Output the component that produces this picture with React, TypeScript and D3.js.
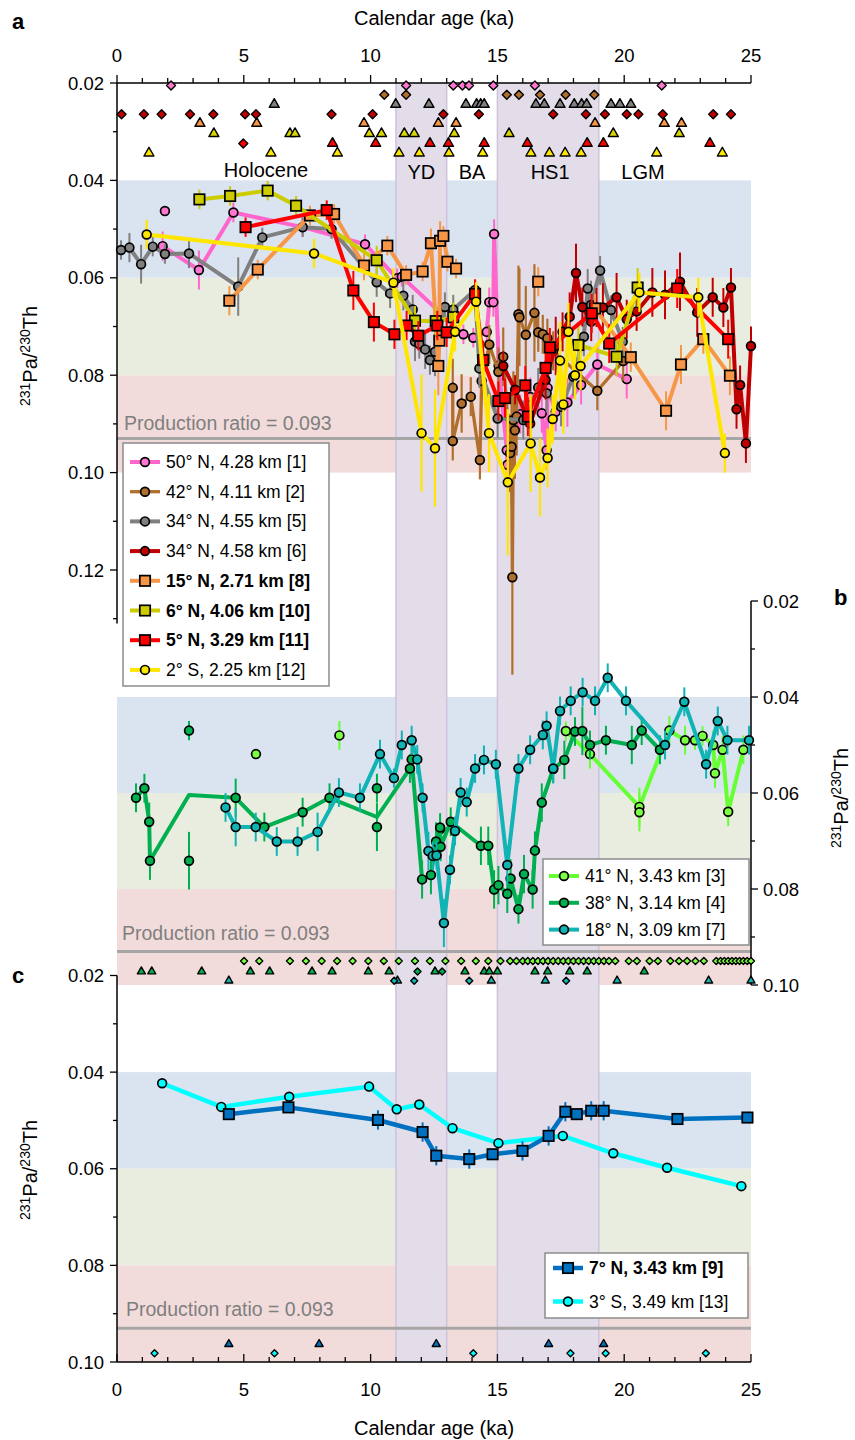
import React from "react";
import * as d3 from "d3";

type P = [number, number, number];
type Q = [number, number];

// ---------------- Panel a: series (age ka, 231Pa/230Th, error) ----------------
const s50N: P[] = [
  [1.8, 0.0535, 0.003], [3.23, 0.0584, 0.004], [4.59, 0.0466, 0.002], [7.32, 0.0496, 0.002],
  [9.78, 0.0531, 0.002], [11.05, 0.0601, 0.002], [11.23, 0.0598, 0.002], [13.66, 0.0716, 0.002],
  [14.05, 0.0723, 0.002], [14.58, 0.0711, 0.002], [14.68, 0.065, 0.003], [14.84, 0.065, 0.003],
  [14.87, 0.051, 0.003], [15.05, 0.078, 0.006], [15.37, 0.0954, 0.004], [15.4, 0.0984, 0.004],
  [15.9, 0.088, 0.004], [16.3, 0.0845, 0.004], [16.75, 0.0878, 0.004], [16.94, 0.0954, 0.004],
  [16.98, 0.0826, 0.004], [17.3, 0.0875, 0.004], [17.76, 0.0856, 0.005], [18.3, 0.082, 0.004],
  [18.94, 0.0778, 0.004], [20.1, 0.0808, 0.004],
];
const s50NExtra: P[] = [[1.89, 0.0463, 0]];

const s42N: P[] = [
  [13.24, 0.0826, 0.006], [13.24, 0.0935, 0.004], [13.59, 0.0858, 0.006], [13.95, 0.0844, 0.004],
  [14.31, 0.0974, 0.004], [14.38, 0.0812, 0.004], [14.68, 0.0737, 0.004], [15.04, 0.0793, 0.005],
  [15.23, 0.0762, 0.006], [15.5, 0.096, 0.008], [15.56, 0.0947, 0.012], [15.59, 0.1215, 0.02],
  [15.63, 0.0892, 0.01], [15.69, 0.0913, 0.01], [15.76, 0.0885, 0.008], [15.83, 0.0675, 0.01],
  [15.87, 0.0681, 0.01], [16.12, 0.0717, 0.01], [16.46, 0.0672, 0.01], [16.61, 0.0712, 0.004],
  [16.79, 0.0716, 0.004], [16.97, 0.0724, 0.004], [17.2, 0.075, 0.004], [18.94, 0.0832, 0.004],
  [19.96, 0.0771, 0.004],
];

const s34N455: P[] = [
  [0.16, 0.0543, 0.002], [0.49, 0.0538, 0.003], [0.95, 0.0572, 0.004], [1.41, 0.0536, 0.002],
  [1.89, 0.0551, 0.002], [2.84, 0.055, 0.003], [4.78, 0.0618, 0.006], [5.73, 0.0517, 0.002],
  [7.32, 0.0496, 0.002], [8.46, 0.05, 0.002], [10.24, 0.0609, 0.003], [10.77, 0.0632, 0.003],
  [11.29, 0.0637, 0.003], [11.66, 0.0665, 0.003], [11.75, 0.0731, 0.004], [11.92, 0.0736, 0.003],
  [12.15, 0.0747, 0.004], [12.34, 0.0769, 0.003], [12.54, 0.0752, 0.005], [12.93, 0.066, 0.003],
  [13.26, 0.0665, 0.003], [14.12, 0.0625, 0.002], [14.29, 0.0786, 0.004], [15.01, 0.0889, 0.004],
  [16.02, 0.0892, 0.004], [16.61, 0.0825, 0.004], [16.94, 0.0837, 0.004], [17.51, 0.0865, 0.004],
  [17.99, 0.0803, 0.004], [18.41, 0.0721, 0.004], [18.56, 0.0622, 0.004], [18.69, 0.0656, 0.005],
  [19.05, 0.0585, 0.003], [19.48, 0.0666, 0.003], [19.94, 0.0731, 0.003],
];

const s34N458: P[] = [
  [15.23, 0.0781, 0.003], [15.7, 0.083, 0.003], [16.29, 0.0899, 0.003], [16.9, 0.081, 0.004],
  [17.3, 0.074, 0.006], [17.57, 0.0711, 0.004], [17.85, 0.068, 0.005], [18.1, 0.059, 0.006],
  [18.35, 0.066, 0.004], [18.7, 0.069, 0.004], [18.91, 0.0661, 0.004], [19.16, 0.0661, 0.005],
  [19.7, 0.064, 0.005], [20.1, 0.0685, 0.004], [20.49, 0.0669, 0.004], [21.11, 0.063, 0.005],
  [21.61, 0.0635, 0.005], [22.2, 0.0608, 0.006], [22.88, 0.0671, 0.005], [23.49, 0.064, 0.004],
  [23.91, 0.0661, 0.004], [24.21, 0.062, 0.004], [24.43, 0.087, 0.004], [24.57, 0.082, 0.004],
  [24.8, 0.094, 0.004], [25.0, 0.074, 0.004],
];

const s15N: P[] = [
  [4.43, 0.0647, 0.003], [5.55, 0.0583, 0.002], [7.61, 0.0472, 0.002], [8.56, 0.0469, 0.002],
  [9.74, 0.0575, 0.003], [10.66, 0.0534, 0.002], [11.4, 0.0594, 0.002], [12.05, 0.0587, 0.002],
  [12.38, 0.0529, 0.003], [12.67, 0.0781, 0.006], [12.71, 0.0729, 0.005], [12.74, 0.0524, 0.004],
  [12.87, 0.0514, 0.002], [13.03, 0.0567, 0.002], [13.37, 0.0581, 0.002], [16.61, 0.0608, 0.003],
  [18.85, 0.0663, 0.003], [20.26, 0.0763, 0.003], [21.65, 0.0873, 0.004], [22.24, 0.0778, 0.004],
  [23.12, 0.0726, 0.003], [24.17, 0.0801, 0.004],
];
const s15NGapsAfter = [13.37, 16.61];

const s6N: P[] = [
  [3.25, 0.0439, 0.002], [4.46, 0.0432, 0.002], [5.94, 0.0421, 0.002], [7.06, 0.0452, 0.002],
  [10.24, 0.0564, 0.003], [11.75, 0.0688, 0.003], [12.57, 0.0689, 0.003], [13.26, 0.0681, 0.003],
  [18.19, 0.0738, 0.004], [19.7, 0.0762, 0.004], [20.53, 0.062, 0.004],
];
const s6NGapsAfter = [13.26];

const s5N: P[] = [
  [5.07, 0.0496, 0.002], [8.27, 0.0461, 0.002], [9.32, 0.0626, 0.004], [10.13, 0.0691, 0.004],
  [10.94, 0.0716, 0.003], [11.42, 0.0698, 0.003], [11.88, 0.0719, 0.003], [12.63, 0.0698, 0.003],
  [13.0, 0.0712, 0.003], [14.12, 0.0633, 0.003], [14.44, 0.0769, 0.004], [15.04, 0.0853, 0.004],
  [15.3, 0.0847, 0.004], [16.1, 0.0821, 0.004], [16.2, 0.0885, 0.004], [16.9, 0.0785, 0.004],
  [17.07, 0.0743, 0.004], [18.72, 0.0673, 0.004], [19.41, 0.0735, 0.004], [22.09, 0.0622, 0.004],
  [24.1, 0.0726, 0.004],
];

const s2S: P[] = [
  [1.17, 0.0511, 0.003], [7.77, 0.055, 0.003], [10.9, 0.061, 0.003], [12.01, 0.0919, 0.012],
  [12.54, 0.095, 0.012], [13.33, 0.0711, 0.004], [14.16, 0.0649, 0.004], [14.67, 0.0919, 0.008],
  [15.41, 0.102, 0.015], [16.31, 0.094, 0.01], [16.68, 0.101, 0.008], [16.98, 0.097, 0.006],
  [17.18, 0.089, 0.005], [17.47, 0.077, 0.008], [17.6, 0.086, 0.006], [17.8, 0.0711, 0.006],
  [18.06, 0.08, 0.005], [18.28, 0.0781, 0.005], [20.6, 0.063, 0.004], [22.92, 0.064, 0.004],
  [23.97, 0.096, 0.004],
];

// Panel a dating control points (ages, ka)
const dates50N = [2.13, 11.4, 13.26, 13.62, 13.88, 14.84, 16.48, 21.48];
const dates42N = [10.54, 11.4, 15.37, 15.85, 16.68, 17.69, 18.82];
const dates34N455 = [6.2, 10.99, 12.3, 13.76, 14.18, 14.34, 14.48, 16.52, 16.85, 17.47, 18.03, 18.32, 18.52, 19.48, 19.83, 20.26];
const dates34N458 = [0.18, 1.06, 1.76, 2.88, 3.8, 5.05, 5.48, 8.46, 10.08, 12.87, 14.27, 17.2, 18.49, 19.24, 20.1, 20.56, 21.52, 23.51, 24.21];
const dates15N = [3.27, 5.51, 9.74, 12.67, 13.37, 18.85, 21.58, 22.26];
const dates6N = [3.82, 6.82, 7.02, 9.95, 10.43, 11.33, 11.72, 13.3, 15.46, 19.57, 22.17];
const dates5NTri = [8.5, 10.2, 12.34, 13.07, 14.48, 16.18, 18.54, 19.18, 23.38];
const dates5NDia = [4.98];
const dates2S = [1.26, 6.07, 8.69, 11.12, 11.92, 13.09, 14.42, 16.32, 17.05, 17.67, 18.3, 21.28, 23.87];

// ---------------- Panel b ----------------
const s41N: P[] = [
  [17.7, 0.0471, 0.002], [18.65, 0.0519, 0.003], [20.6, 0.0629, 0.004], [21.78, 0.047, 0.003],
  [22.4, 0.049, 0.003], [22.79, 0.049, 0.002], [23.09, 0.0481, 0.002], [23.51, 0.05, 0.003],
  [23.58, 0.0559, 0.003], [23.88, 0.051, 0.003], [24.1, 0.0639, 0.003], [24.7, 0.051, 0.003],
];
const s41NExtra: P[] = [[5.48, 0.0519, 0], [8.77, 0.048, 0.003], [12.75, 0.0675, 0.002], [20.6, 0.064, 0.004]];

const s38N: P[] = [
  [0.75, 0.061, 0.003], [1.08, 0.059, 0.003], [1.27, 0.066, 0.004], [1.3, 0.0741, 0.004],
  [4.68, 0.061, 0.004], [5.81, 0.0671, 0.003], [7.32, 0.064, 0.003], [8.38, 0.061, 0.003],
  [11.55, 0.0549, 0.003], [11.62, 0.053, 0.003], [12.03, 0.078, 0.004], [12.38, 0.0771, 0.004],
  [12.58, 0.0701, 0.004], [12.74, 0.0672, 0.003], [12.76, 0.0712, 0.003], [13.16, 0.066, 0.003],
  [14.35, 0.071, 0.004], [14.64, 0.071, 0.004], [14.87, 0.0801, 0.004], [15.04, 0.0792, 0.004],
  [15.39, 0.081, 0.004], [15.52, 0.0778, 0.004], [15.83, 0.0842, 0.003], [16.05, 0.0769, 0.004],
  [16.39, 0.0801, 0.004], [16.48, 0.072, 0.004], [16.75, 0.062, 0.004], [17.2, 0.055, 0.003],
  [17.64, 0.0531, 0.004], [18.06, 0.0472, 0.003], [18.35, 0.0471, 0.005], [18.65, 0.05, 0.003],
  [19.28, 0.049, 0.003], [20.3, 0.05, 0.004], [20.69, 0.047, 0.003], [21.41, 0.051, 0.003],
];
const s38NMeanVertices: Q[] = [[2.84, 0.0604], [10.25, 0.065]];
const s38NExtra: P[] = [[2.84, 0.047, 0.002], [2.84, 0.0741, 0.006], [10.25, 0.059, 0.003], [10.25, 0.0671, 0.005]];

const s18N: P[] = [
  [4.28, 0.063, 0.003], [4.68, 0.0671, 0.004], [5.47, 0.0671, 0.003], [6.3, 0.0701, 0.003],
  [7.12, 0.0701, 0.003], [7.91, 0.0681, 0.004], [8.75, 0.0599, 0.003], [9.58, 0.061, 0.003],
  [10.37, 0.0519, 0.003], [10.92, 0.0569, 0.002], [11.23, 0.05, 0.003], [11.62, 0.049, 0.003],
  [11.84, 0.053, 0.003], [12.05, 0.061, 0.003], [12.28, 0.0721, 0.004], [12.45, 0.0731, 0.003],
  [12.6, 0.073, 0.003], [12.89, 0.0871, 0.005], [13.13, 0.076, 0.003], [13.33, 0.0679, 0.003],
  [13.55, 0.0599, 0.003], [13.79, 0.0619, 0.003], [14.12, 0.0549, 0.003], [14.47, 0.0531, 0.003],
  [14.94, 0.054, 0.003], [15.39, 0.075, 0.004], [15.83, 0.0549, 0.003], [16.29, 0.051, 0.003],
  [16.79, 0.0479, 0.003], [16.94, 0.046, 0.003], [17.2, 0.0549, 0.003], [17.47, 0.0429, 0.003],
  [17.89, 0.0408, 0.003], [18.36, 0.039, 0.003], [18.85, 0.0408, 0.003], [19.35, 0.036, 0.003],
  [20.07, 0.0408, 0.003], [21.61, 0.05, 0.003], [22.37, 0.041, 0.003], [23.23, 0.054, 0.003],
  [23.69, 0.045, 0.003], [24.07, 0.049, 0.003], [24.92, 0.049, 0.003],
];

const dates41N = [5.01, 5.61, 6.82, 7.45, 8.07, 8.68, 9.29, 9.91, 10.52, 11.11, 11.75, 12.34, 12.95, 13.57, 14.15, 14.64, 15.12, 15.5, 15.75, 16.0, 16.2, 16.4, 16.6, 16.8, 17.0, 17.2, 17.4, 17.6, 17.8, 18.0, 18.2, 18.4, 18.6, 18.8, 19.0, 19.2, 19.4, 19.65, 20.18, 20.5, 21.0, 21.33, 21.82, 22.16, 22.48, 22.81, 23.14, 23.63, 23.8, 23.95, 24.1, 24.25, 24.4, 24.55, 24.7, 24.85, 25.0];
const dates38NTri = [0.96, 1.37, 3.34, 5.26, 6.02, 7.69, 8.48, 9.91, 10.73, 12.54, 13.72, 14.48, 14.68, 15.0, 16.48, 16.98, 17.85, 18.54, 20.79];
const dates38NDia = [11.85, 12.82];
const dates18NTri = [4.41, 11.06, 14.76, 16.89, 19.72, 23.33, 25.0];
const dates18NDia = [10.93, 11.72, 13.89, 17.71];

// ---------------- Panel c ----------------
const s7N: P[] = [
  [4.41, 0.0487, 0.001], [6.76, 0.0473, 0.001], [10.29, 0.0499, 0.002], [12.05, 0.0524, 0.002],
  [12.59, 0.0573, 0.002], [13.89, 0.058, 0.002], [14.81, 0.057, 0.001], [15.99, 0.0563, 0.002],
  [17.02, 0.0532, 0.002], [17.68, 0.0482, 0.002], [18.13, 0.0487, 0.001], [18.7, 0.048, 0.002],
  [19.19, 0.048, 0.002], [22.1, 0.0497, 0.001], [24.86, 0.0494, 0.001],
];
const s3S: P[] = [
  [1.78, 0.0423, 0], [4.11, 0.0472, 0], [6.79, 0.0451, 0], [9.94, 0.043, 0.001],
  [11.03, 0.0477, 0], [11.92, 0.0467, 0], [13.23, 0.0516, 0], [15.04, 0.0547, 0],
  [17.58, 0.0532, 0], [19.57, 0.0568, 0], [21.69, 0.0598, 0], [24.62, 0.0636, 0],
];
const dates7N = [4.41, 7.97, 12.59, 17.02, 19.19];
const dates3S = [1.48, 6.21, 14.05, 17.88, 19.27, 23.22];

// ---------------- ticks / labels ----------------
const ageTicks = [0, 5, 10, 15, 20, 25];
const ageMinor = d3.range(0, 26, 1);
const ratioLabelsA = [0.02, 0.04, 0.06, 0.08, 0.1, 0.12];
const ratioMinorA = d3.range(0.02, 0.1301, 0.01);
const ratioLabelsBC = [0.02, 0.04, 0.06, 0.08, 0.1];
const ratioMinorBC = d3.range(0.02, 0.1001, 0.01);
const bandEdges = [0.04, 0.06, 0.08, 0.1];
const productionRatio = 0.093;
const periods: { name: string; from: number; to: number; shade: boolean }[] = [
  { name: "YD", from: 11, to: 13, shade: true },
  { name: "BA", from: 13, to: 15, shade: false },
  { name: "HS1", from: 15, to: 19, shade: true },
];

// ---------------- scales & styles ----------------
const FONT = "'Liberation Sans', Arial, Helvetica, sans-serif";
const x = d3.scaleLinear().domain([0, 25]).range([117, 751]);
const ya = d3.scaleLinear().domain([0.02, 0.1]).range([83, 472.6]);
const yb = d3.scaleLinear().domain([0.02, 0.1]).range([601, 985]);
const yc = d3.scaleLinear().domain([0.02, 0.1]).range([975.5, 1362]);
const bandColors = ["#dae3f0", "#e9eddf", "#f2dcdb"];

type Style = { color: string; fill: string; shape: "circle" | "square"; lw: number; ew: number };
const st: Record<string, Style> = {
  n50: { color: "#ff66cc", fill: "#ff77d0", shape: "circle", lw: 4, ew: 2 },
  n42: { color: "#b06f2c", fill: "#b06f2c", shape: "circle", lw: 3.3, ew: 2.2 },
  n34a: { color: "#808080", fill: "#808080", shape: "circle", lw: 4, ew: 2 },
  n34b: { color: "#c00000", fill: "#c00000", shape: "circle", lw: 4, ew: 2 },
  n15: { color: "#f79646", fill: "#f79646", shape: "square", lw: 4, ew: 2 },
  n6: { color: "#cccc00", fill: "#cccc00", shape: "square", lw: 4, ew: 2 },
  n5: { color: "#ff0000", fill: "#ff0000", shape: "square", lw: 4, ew: 2 },
  s2: { color: "#ffe600", fill: "#ffe600", shape: "circle", lw: 4, ew: 2.2 },
  n41: { color: "#66ff33", fill: "#7cff44", shape: "circle", lw: 4, ew: 2 },
  n38: { color: "#00b050", fill: "#00b050", shape: "circle", lw: 4, ew: 2 },
  n18: { color: "#10b4b4", fill: "#10b4b4", shape: "circle", lw: 4, ew: 2 },
  n7: { color: "#0070c0", fill: "#0070c0", shape: "square", lw: 4.5, ew: 2 },
  s3: { color: "#00ffff", fill: "#00ffff", shape: "circle", lw: 4.5, ew: 2 },
};

const triPath = (s: number) => {
  const h = (s * Math.sqrt(3)) / 2;
  return `M0,${-(2 * h) / 3}L${s / 2},${h / 3}L${-s / 2},${h / 3}Z`;
};
const diaPath = (r: number) => `M0,${-r}L${r},0L0,${r}L${-r},0Z`;

function Marker({ cx, cy, s }: { cx: number; cy: number; s: Style }) {
  if (s.shape === "square")
    return <rect x={cx - 5.2} y={cy - 5.2} width={10.4} height={10.4} fill={s.fill} stroke="#000" strokeWidth={1.7} />;
  return <circle cx={cx} cy={cy} r={4.4} fill={s.fill} stroke="#000" strokeWidth={1.7} />;
}

function Series({ data, ys, s, lineExtra, extra, gapsAfter }: { data: P[]; ys: d3.ScaleLinear<number, number>; s: Style; lineExtra?: Q[]; extra?: P[]; gapsAfter?: number[] }) {
  let verts: (Q | null)[] = data.map((d) => [d[0], d[1]] as Q);
  if (lineExtra) verts = [...(verts as Q[]), ...lineExtra].sort((a, b) => a[0] - b[0]);
  if (gapsAfter) {
    const out: (Q | null)[] = [];
    verts.forEach((v) => {
      out.push(v);
      if (v && gapsAfter.includes(v[0])) out.push(null);
    });
    verts = out;
  }
  const line = d3.line<Q | null>().defined((d) => d !== null).x((d) => x((d as Q)[0])).y((d) => ys((d as Q)[1]));
  const all = [...data, ...(extra || [])];
  return (
    <g>
      {all.filter((d) => d[2] > 0).map((d, i) => (
        <line key={"e" + i} x1={x(d[0])} x2={x(d[0])} y1={ys(d[1] - d[2])} y2={ys(d[1] + d[2])} stroke={s.color} strokeWidth={s.ew} />
      ))}
      <path d={line(verts) || ""} fill="none" stroke={s.color} strokeWidth={s.lw} strokeLinejoin="round" />
      {all.map((d, i) => (
        <Marker key={"m" + i} cx={x(d[0])} cy={ys(d[1])} s={s} />
      ))}
    </g>
  );
}

function DateRow({ ages, y, fill, kind, size }: { ages: number[]; y: number; fill: string; kind: "tri" | "dia"; size: number }) {
  const d = kind === "tri" ? triPath(size) : diaPath(size / 2);
  return (
    <g>
      {ages.map((a, i) => (
        <path key={i} d={d} transform={`translate(${x(a)},${y})`} fill={fill} stroke="#000" strokeWidth={1.4} strokeLinejoin="round" />
      ))}
    </g>
  );
}

function Bands({ ys }: { ys: d3.ScaleLinear<number, number> }) {
  return (
    <g>
      {bandColors.map((c, i) => (
        <rect key={i} x={x(0)} width={x(25) - x(0)} y={ys(bandEdges[i])} height={ys(bandEdges[i + 1]) - ys(bandEdges[i])} fill={c} />
      ))}
    </g>
  );
}

function ProdLine({ ys, tx, ty }: { ys: d3.ScaleLinear<number, number>; tx: number; ty: number }) {
  return (
    <g>
      <line x1={x(0)} x2={x(25)} y1={ys(productionRatio)} y2={ys(productionRatio)} stroke="#a6a6a6" strokeWidth={3} />
      <text x={tx} y={ty} fontSize={19.5} fill="#7f7f7f" fontFamily={FONT}>
        Production ratio = {productionRatio.toFixed(3)}
      </text>
    </g>
  );
}

function YTitle({ tx, ty }: { tx: number; ty: number }) {
  return (
    <text transform={`translate(${tx},${ty}) rotate(-90)`} textAnchor="middle" fontSize={20} fontFamily={FONT} fill="#000">
      <tspan dy={-7} fontSize={14}>231</tspan>
      <tspan dy={7}>Pa/</tspan>
      <tspan dy={-7} fontSize={14}>230</tspan>
      <tspan dy={7}>Th</tspan>
    </text>
  );
}

function LegendEntry({ lx, ly, s, label, bold }: { lx: number; ly: number; s: Style; label: string; bold?: boolean }) {
  return (
    <g>
      <line x1={lx} x2={lx + 30} y1={ly} y2={ly} stroke={s.color} strokeWidth={s.lw} />
      <Marker cx={lx + 15} cy={ly} s={s} />
      <text x={lx + 36} y={ly + 6} fontSize={17.5} fontWeight={bold ? "bold" : "normal"} fontFamily={FONT} fill="#000">
        {label}
      </text>
    </g>
  );
}

const legendA: { k: string; label: string; bold?: boolean }[] = [
  { k: "n50", label: "50° N, 4.28 km [1]" },
  { k: "n42", label: "42° N, 4.11 km [2]" },
  { k: "n34a", label: "34° N, 4.55 km [5]" },
  { k: "n34b", label: "34° N, 4.58 km [6]" },
  { k: "n15", label: "15° N, 2.71 km [8]", bold: true },
  { k: "n6", label: "6° N, 4.06 km [10]", bold: true },
  { k: "n5", label: "5° N, 3.29 km [11]", bold: true },
  { k: "s2", label: "2° S, 2.25 km [12]" },
];
const legendB: { k: string; label: string; bold?: boolean }[] = [
  { k: "n41", label: "41° N, 3.43 km [3]" },
  { k: "n38", label: "38° N, 3.14 km [4]" },
  { k: "n18", label: "18° N, 3.09 km [7]" },
];
const legendC: { k: string; label: string; bold?: boolean }[] = [
  { k: "n7", label: "7° N, 3.43 km [9]", bold: true },
  { k: "s3", label: "3° S, 3.49 km [13]" },
];

export default function App() {
  const fmt = (v: number) => v.toFixed(2);
  const yTop = 83;
  const yBot = yc(0.1);
  return (
    <div style={{ position: "absolute", left: 0, top: 0 }}>
      <svg width={855} height={1440} viewBox="0 0 855 1440" style={{ display: "block", background: "#fff" }}>
        {/* bands */}
        <Bands ys={ya} />
        <Bands ys={yb} />
        <Bands ys={yc} />
        {/* period columns */}
        {periods.filter((p) => p.shade).map((p) => (
          <g key={p.name}>
            <rect x={x(p.from)} width={x(p.to) - x(p.from)} y={yTop} height={yBot - yTop} fill="#e3dce9" />
            <line x1={x(p.from)} x2={x(p.from)} y1={yTop} y2={yBot} stroke="#cdc3da" strokeWidth={1.5} />
            <line x1={x(p.to)} x2={x(p.to)} y1={yTop} y2={yBot} stroke="#cdc3da" strokeWidth={1.5} />
          </g>
        ))}
        {/* production ratio */}
        <ProdLine ys={ya} tx={124} ty={430} />
        <ProdLine ys={yb} tx={122} ty={940} />
        <ProdLine ys={yc} tx={126} ty={1316} />

        {/* period labels */}
        <g fontFamily={FONT} fontSize={20} textAnchor="middle" fill="#000">
          <text x={266} y={177}>Holocene</text>
          {periods.map((p) => (
            <text key={p.name} x={x((p.from + p.to) / 2) + (p.name === "HS1" ? 2 : 0)} y={179}>{p.name}</text>
          ))}
          <text x={643} y={179}>LGM</text>
        </g>

        {/* Axes: panel a top (age) */}
        <g fontFamily={FONT} fontSize={18.5} fill="#000">
          <line x1={x(0)} x2={x(25)} y1={yTop} y2={yTop} stroke="#000" strokeWidth={1.5} />
          {ageMinor.map((t) => (
            <line key={"ta" + t} x1={x(t)} x2={x(t)} y1={yTop} y2={yTop - (t % 5 === 0 ? 8 : 5)} stroke="#000" strokeWidth={1.3} />
          ))}
          {ageTicks.map((t) => (
            <text key={"tal" + t} x={x(t)} y={62} textAnchor="middle">{t}</text>
          ))}
          <text x={434} y={25} textAnchor="middle" fontSize={20}>Calendar age (ka)</text>

          {/* panel a left */}
          <line x1={x(0)} x2={x(0)} y1={yTop} y2={ya(0.131)} stroke="#000" strokeWidth={1.5} />
          {ratioMinorA.map((v, i) => (
            <line key={"la" + i} x1={x(0)} x2={x(0) - (i % 2 === 0 ? 7 : 4)} y1={ya(v)} y2={ya(v)} stroke="#000" strokeWidth={1.3} />
          ))}
          {ratioLabelsA.map((v) => (
            <text key={"lal" + v} x={104} y={ya(v) + 6.5} textAnchor="end">{fmt(v)}</text>
          ))}

          {/* panel b right */}
          <line x1={x(25)} x2={x(25)} y1={yb(0.02)} y2={yb(0.1)} stroke="#000" strokeWidth={1.5} />
          {ratioMinorBC.map((v, i) => (
            <line key={"rb" + i} x1={x(25)} x2={x(25) + (i % 2 === 0 ? 7 : 4)} y1={yb(v)} y2={yb(v)} stroke="#000" strokeWidth={1.3} />
          ))}
          {ratioLabelsBC.map((v) => (
            <text key={"rbl" + v} x={763} y={yb(v) + 6.5} textAnchor="start">{fmt(v)}</text>
          ))}

          {/* panel c left & bottom */}
          <line x1={x(0)} x2={x(0)} y1={yc(0.02)} y2={yc(0.1)} stroke="#000" strokeWidth={1.5} />
          {ratioMinorBC.map((v, i) => (
            <line key={"lc" + i} x1={x(0)} x2={x(0) - (i % 2 === 0 ? 7 : 4)} y1={yc(v)} y2={yc(v)} stroke="#000" strokeWidth={1.3} />
          ))}
          {ratioLabelsBC.map((v) => (
            <text key={"lcl" + v} x={104} y={yc(v) + 6.5} textAnchor="end">{fmt(v)}</text>
          ))}
          <line x1={x(0)} x2={x(25)} y1={yBot} y2={yBot} stroke="#000" strokeWidth={1.5} />
          {ageMinor.map((t) => (
            <line key={"tb" + t} x1={x(t)} x2={x(t)} y1={yBot} y2={yBot - (t % 5 === 0 ? 8 : 5)} stroke="#000" strokeWidth={1.3} />
          ))}
          {ageTicks.map((t) => (
            <text key={"tbl" + t} x={x(t)} y={1396} textAnchor="middle">{t}</text>
          ))}
          <text x={434} y={1435} textAnchor="middle" fontSize={20}>Calendar age (ka)</text>
        </g>
        <YTitle tx={37} ty={356} />
        <YTitle tx={848} ty={798} />
        <YTitle tx={37} ty={1170} />
        <g fontFamily={FONT} fontSize={22} fontWeight="bold">
          <text x={12} y={29}>a</text>
          <text x={834} y={605}>b</text>
          <text x={12} y={983}>c</text>
        </g>

        {/* Panel a dating rows */}
        <DateRow ages={dates50N} y={ya(0.0205)} fill="#ff77d0" kind="dia" size={9} />
        <DateRow ages={dates42N} y={ya(0.0224)} fill="#b06f2c" kind="dia" size={9} />
        <DateRow ages={dates34N455} y={ya(0.0244)} fill="#808080" kind="tri" size={10} />
        <DateRow ages={dates34N458} y={ya(0.0264)} fill="#c00000" kind="dia" size={9} />
        <DateRow ages={dates15N} y={ya(0.0283)} fill="#f79646" kind="tri" size={10} />
        <DateRow ages={dates6N} y={ya(0.0304)} fill="#d8d800" kind="tri" size={10} />
        <DateRow ages={dates5NTri} y={ya(0.0324)} fill="#ff0000" kind="tri" size={10} />
        <DateRow ages={dates5NDia} y={ya(0.0324)} fill="#ff0000" kind="dia" size={9} />
        <DateRow ages={dates2S} y={ya(0.0344)} fill="#ffe600" kind="tri" size={10} />

        {/* Panel a series */}
        <Series data={s50N} extra={s50NExtra} ys={ya} s={st.n50} />
        <Series data={s42N} ys={ya} s={st.n42} />
        <Series data={s34N455} ys={ya} s={st.n34a} />
        <Series data={s34N458} ys={ya} s={st.n34b} />
        <Series data={s15N} ys={ya} s={st.n15} gapsAfter={s15NGapsAfter} />
        <Series data={s6N} ys={ya} s={st.n6} gapsAfter={s6NGapsAfter} />
        <Series data={s5N} ys={ya} s={st.n5} />
        <Series data={s2S} ys={ya} s={st.s2} />

        {/* Panel b series */}
        <Series data={s41N} extra={s41NExtra} ys={yb} s={st.n41} />
        <Series data={s38N} extra={s38NExtra} lineExtra={s38NMeanVertices} ys={yb} s={st.n38} />
        <Series data={s18N} ys={yb} s={st.n18} />
        <DateRow ages={dates41N} y={yb(0.095)} fill="#7cff44" kind="dia" size={7} />
        <DateRow ages={dates38NTri} y={yb(0.0972)} fill="#00b050" kind="tri" size={8} />
        <DateRow ages={dates38NDia} y={yb(0.0972)} fill="#00b050" kind="dia" size={7} />
        <DateRow ages={dates18NTri} y={yb(0.0991)} fill="#10b4b4" kind="tri" size={8} />
        <DateRow ages={dates18NDia} y={yb(0.0991)} fill="#10b4b4" kind="dia" size={7} />

        {/* Panel c series */}
        <Series data={s3S} ys={yc} s={st.s3} />
        <Series data={s7N} ys={yc} s={st.n7} />
        <DateRow ages={dates7N} y={yc(0.0963)} fill="#0070c0" kind="tri" size={8} />
        <DateRow ages={dates3S} y={yc(0.0982)} fill="#00ffff" kind="dia" size={7} />

        {/* Legends */}
        <g>
          <rect x={123} y={443} width={206} height={243} fill="#fff" stroke="#8c8c8c" strokeWidth={1.5} />
          {legendA.map((e, i) => (
            <LegendEntry key={e.k} lx={130} ly={462 + i * 29.7} s={st[e.k]} label={e.label} bold={e.bold} />
          ))}
        </g>
        <g>
          <rect x={543} y={859} width={206} height={86} fill="#fff" stroke="#8c8c8c" strokeWidth={1.5} />
          {legendB.map((e, i) => (
            <LegendEntry key={e.k} lx={549} ly={876 + i * 26.8} s={st[e.k]} label={e.label} bold={e.bold} />
          ))}
        </g>
        <g>
          <rect x={545} y={1253} width={203} height={65} fill="#fff" stroke="#8c8c8c" strokeWidth={1.5} />
          {legendC.map((e, i) => (
            <LegendEntry key={e.k} lx={553} ly={1268 + i * 33.5} s={st[e.k]} label={e.label} bold={e.bold} />
          ))}
        </g>
      </svg>
    </div>
  );
}
